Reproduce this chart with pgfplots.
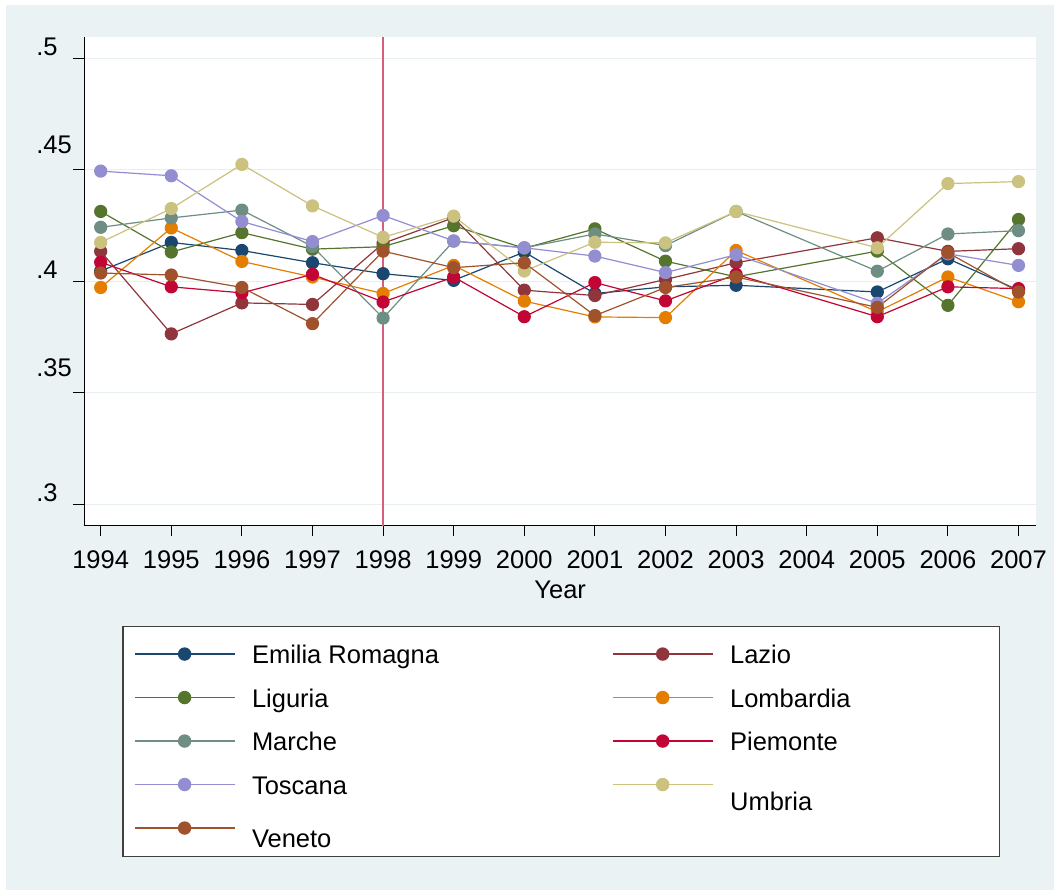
\documentclass[border=0pt]{standalone}
\usepackage{fontspec}
\setmainfont{Liberation Sans}
\usepackage{pgfplots}
\pgfplotsset{compat=1.18}
\definecolor{bgc}{RGB}{234,242,243}
\definecolor{gridc}{RGB}{230,238,240}
\definecolor{xlinec}{RGB}{212,96,124}
\definecolor{cnavy}{RGB}{26,71,111}
\definecolor{cmaroon}{RGB}{144,53,59}
\definecolor{cforest}{RGB}{85,117,47}
\definecolor{corange}{RGB}{227,126,0}
\definecolor{cteal}{RGB}{110,142,132}
\definecolor{ccran}{RGB}{193,5,52}
\definecolor{clav}{RGB}{147,141,210}
\definecolor{ckhaki}{RGB}{202,194,126}
\definecolor{csienna}{RGB}{160,82,45}
\newcommand{\fs}{\fontsize{12.75}{15}\selectfont}
\begin{document}
\begin{tikzpicture}
\path[use as bounding box] (0,0) rectangle (530pt,447.5pt);
\fill[white] (0,0) rectangle (530pt,447.5pt);
\fill[bgc] (3pt,2.5pt) rectangle (527pt,445pt);
\begin{axis}[
  at={(42.15pt,185pt)}, anchor=south west,
  scale only axis, width=475.85pt, height=243.85pt,
  xmin=-0.232, xmax=13.248, ymin=0.2907, ymax=0.5094,
  axis background/.style={fill=white},
  axis x line*=bottom, axis y line*=left,
  axis line style={black, line width=0.5pt},
  tick align=outside, major tick length=5.5pt,
  tick style={black, line width=0.5pt},
  xtick={0,1,2,3,4,5,6,7,8,9,10,11,12,13},
  xticklabels={1994,1995,1996,1997,1998,1999,2000,2001,2002,2003,2004,2005,2006,2007},
  ytick={0.3,0.35,0.4,0.45,0.5},
  yticklabels={.3,\raisebox{6.4pt}{.35},.4,\raisebox{6.4pt}{.45},.5},
  ymajorgrids, major grid style={gridc, line width=0.5pt},
  ticklabel style={font=\fs},
  xticklabel style={anchor=north, inner sep=0pt, yshift=-7pt},
  yticklabel style={anchor=base west, inner sep=0pt, xshift=-18.65pt, yshift=1.5pt},
  xlabel={Year},
  xlabel style={at={(axis description cs:0.5,-0.1333)}, anchor=center, inner sep=0pt, font=\fs},
  every axis plot/.append style={line width=0.6pt, mark=*, mark size=3pt, mark options={solid, draw=none}},
  legend columns=2,
  legend image code/.code={\draw[line width=0.7pt, mark repeat=2,mark phase=2] plot coordinates {(0pt,0.25pt) (25pt,0.25pt) (50pt,0.25pt)};},
  legend style={at={(rel axis cs:0.03993,-0.20648)}, anchor=north west,
    draw={rgb,255:red,64;green,64;blue,64}, line width=0.6pt, fill=white,
    inner xsep=5.5pt, inner ysep=3.25pt,
    font=\fs, cells={anchor=center},
    nodes={inner sep=0pt, text height=15.44pt, text depth=6.31pt},
    /tikz/column sep=0pt, /tikz/row sep=0pt},
]
\addplot[forget plot, xlinec, line width=1pt, mark=none] coordinates {(4,0.28) (4,0.52)};

\addplot[color=cnavy, mark options={fill=cnavy}] coordinates {
(0,0.4046) (1,0.4174) (2,0.4138) (3,0.4083) (4,0.4034) (5,0.4004) (6,0.4131)
(7,0.3945) (8,0.3975) (9,0.3982) (11,0.3952) (12,0.4101) (13,0.3960)};
\addlegendentry{\hspace*{8.35pt}\makebox[180pt][l]{Emilia Romagna}}

\addplot[color=cmaroon, mark options={fill=cmaroon}] coordinates {
(0,0.4134) (1,0.3764) (2,0.3903) (3,0.3896) (4,0.4170) (5,0.4285) (6,0.3960)
(7,0.3936) (8,0.4008) (9,0.4083) (11,0.4195) (12,0.4134) (13,0.4146)};
\addlegendentry{\hspace*{8.35pt}\makebox[129pt][l]{Lazio}}

\addplot[color=cforest, mark options={fill=cforest}] coordinates {
(0,0.4313) (1,0.4131) (2,0.4218) (3,0.4144) (4,0.4155) (5,0.4249) (6,0.4148)
(7,0.4235) (8,0.4090) (9,0.4020) (11,0.4135) (12,0.3892) (13,0.4277)};
\addlegendentry{\hspace*{8.35pt}\makebox[180pt][l]{Liguria}}

\addplot[color=corange, mark options={fill=corange}] coordinates {
(0,0.3972) (1,0.4239) (2,0.4089) (3,0.4019) (4,0.3945) (5,0.4071) (6,0.3911)
(7,0.3840) (8,0.3837) (9,0.4138) (11,0.3863) (12,0.4019) (13,0.3908)};
\addlegendentry{\hspace*{8.35pt}\makebox[129pt][l]{Lombardia}}

\addplot[color=cteal, mark options={fill=cteal}] coordinates {
(0,0.4242) (1,0.4284) (2,0.4319) (3,0.4156) (4,0.3835) (5,0.4180) (6,0.4150)
(7,0.4212) (8,0.4160) (9,0.4313) (11,0.4045) (12,0.4212) (13,0.4227)};
\addlegendentry{\hspace*{8.35pt}\makebox[180pt][l]{Marche}}

\addplot[color=ccran, mark options={fill=ccran}] coordinates {
(0,0.4085) (1,0.3975) (2,0.3948) (3,0.4031) (4,0.3907) (5,0.4019) (6,0.3841)
(7,0.3994) (8,0.3912) (9,0.4031) (11,0.3841) (12,0.3975) (13,0.3967)};
\addlegendentry{\hspace*{8.35pt}\makebox[129pt][l]{Piemonte}}

\addplot[color=clav, mark options={fill=clav}] coordinates {
(0,0.4494) (1,0.4473) (2,0.4268) (3,0.4178) (4,0.4295) (5,0.4181) (6,0.4150)
(7,0.4113) (8,0.4039) (9,0.4119) (11,0.3901) (12,0.4123) (13,0.4071)};
\addlegendentry{\hspace*{8.35pt}\makebox[180pt][l]{Toscana}}

\addplot[color=ckhaki, mark options={fill=ckhaki}] coordinates {
(0,0.4174) (1,0.4326) (2,0.4524) (3,0.4338) (4,0.4197) (5,0.4292) (6,0.4046)
(7,0.4175) (8,0.4172) (9,0.4313) (11,0.4150) (12,0.4438) (13,0.4447)};
\addlegendentry{\hspace*{8.35pt}\makebox[129pt][l]{\raisebox{-8.35pt}{Umbria}}}

\addplot[color=csienna, mark options={fill=csienna}] coordinates {
(0,0.4037) (1,0.4028) (2,0.3972) (3,0.3810) (4,0.4135) (5,0.4061) (6,0.4083)
(7,0.3846) (8,0.3972) (9,0.4019) (11,0.3883) (12,0.4128) (13,0.3952)};
\addlegendentry{\hspace*{8.35pt}\makebox[180pt][l]{\raisebox{-5.15pt}{Veneto}}}
\end{axis}
\end{tikzpicture}
\end{document}
